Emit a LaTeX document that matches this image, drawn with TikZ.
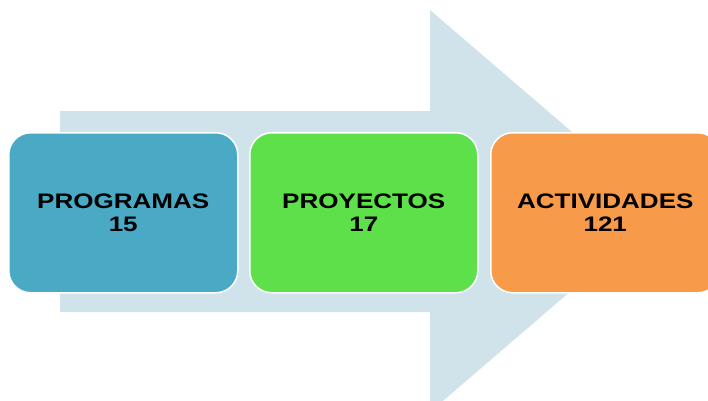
\documentclass[tikz,border=0pt]{standalone}
\usepackage{fontspec}
\usepackage{graphicx}
\setmainfont{Liberation Sans}
\definecolor{arrowc}{HTML}{D0E2EA}
\definecolor{bluec}{HTML}{4AA9C4}
\definecolor{greenc}{HTML}{5EE04B}
\definecolor{orangec}{HTML}{F79A4A}
\newcommand{\lbl}[2]{\scalebox{1.24}[1]{#1}\\\scalebox{1.24}[1]{#2}}
\begin{document}
\begin{tikzpicture}[x=1pt,y=-1pt,
  stagebox/.style={draw=white,line width=1.5pt,rounded corners=22pt,minimum width=229pt,minimum height=160pt,align=center,inner sep=0pt,text=black,font=\fontsize{21}{23}\selectfont\bfseries}]
\useasboundingbox (0,0) rectangle (708,400);
\fill[arrowc] (60,111) -- (430,111) -- (430,10) -- (664,211) -- (430,412) -- (430,312) -- (60,312) -- cycle;
\node[stagebox,fill=bluec,anchor=north west] (prog) at (8,132) {\lbl{PROGRAMAS}{15}};
\node[stagebox,fill=greenc,anchor=north west,minimum width=228pt] (proy) at (249,132) {\lbl{PROYECTOS}{17}};
\node[stagebox,fill=orangec,anchor=north west] (act) at (490,132) {\lbl{ACTIVIDADES}{121}};
\end{tikzpicture}
\end{document}
